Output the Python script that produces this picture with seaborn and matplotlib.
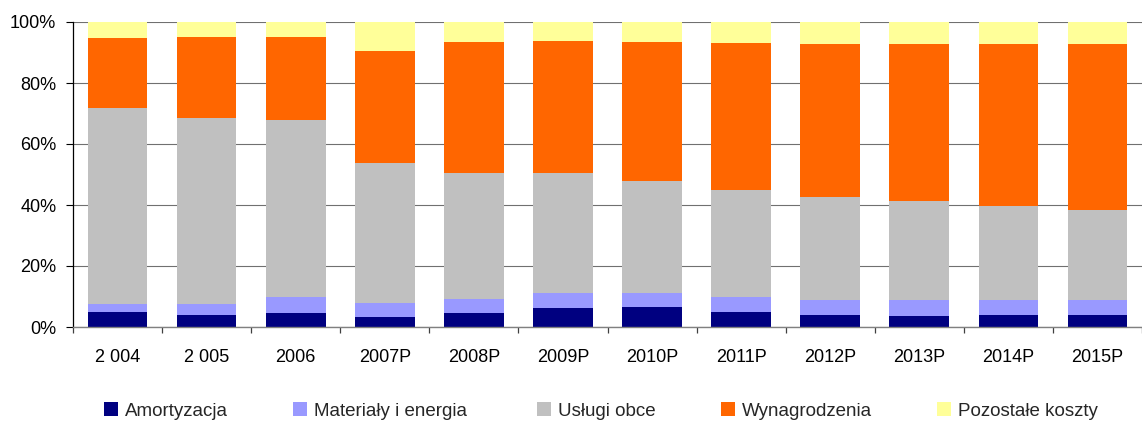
import matplotlib
matplotlib.use("Agg")
import matplotlib.pyplot as plt
from matplotlib.patches import Patch
from matplotlib.ticker import FixedLocator, FuncFormatter
import numpy as np
import pandas as pd
import seaborn as sns

# Cost structure by year (share of total costs, %)
years = ["2 004", "2 005", "2006", "2007P", "2008P", "2009P",
         "2010P", "2011P", "2012P", "2013P", "2014P", "2015P"]
amortyzacja = [4.9, 4.0, 4.6, 3.4, 4.6, 6.2, 6.6, 4.9, 3.9, 3.6, 3.9, 3.9]
materialy = [2.6, 3.5, 5.3, 4.5, 4.6, 4.9, 4.5, 4.9, 5.0, 5.3, 5.0, 5.0]
uslugi = [64.4, 61.0, 58.0, 45.9, 41.3, 39.4, 36.8, 35.1, 33.7, 32.4, 30.8, 29.5]
wynagrodzenia = [22.9, 26.6, 27.2, 36.7, 42.9, 43.3, 45.5, 48.2, 50.2, 51.5, 53.1, 54.4]
pozostale = [5.2, 4.9, 4.9, 9.5, 6.6, 6.2, 6.6, 6.9, 7.2, 7.2, 7.2, 7.2]

series_names = ["Amortyzacja", "Materiały i energia", "Usługi obce",
                "Wynagrodzenia", "Pozostałe koszty"]
series_values = [amortyzacja, materialy, uslugi, wynagrodzenia, pozostale]
colors = ["#000080", "#9999FF", "#C0C0C0", "#FF6600", "#FFFF99"]

df = pd.DataFrame(dict(zip(series_names, series_values)), index=years)
cum = df.cumsum(axis=1)

sns.set_theme(style="white")
plt.rcParams["font.family"] = ["Liberation Sans", "DejaVu Sans"]

W, H = 1142, 421
fig = plt.figure(figsize=(W / 100, H / 100), dpi=100)
ax = fig.add_axes([73 / W, 1 - 327 / H, 1 - 73 / W, (327 - 22) / H])

# stacked bars: draw cumulative totals from the top series down
for name, color in reversed(list(zip(series_names, colors))):
    sns.barplot(x=years, y=cum[name].values, color=color, width=0.67,
                linewidth=0, saturation=1, ax=ax, zorder=2)

ax.set_xlim(-0.5, len(years) - 0.5)
ax.set_ylim(0, 100)
ax.set_xlabel("")
ax.set_ylabel("")

ax.yaxis.set_major_locator(FixedLocator([0, 20, 40, 60, 80, 100]))
ax.yaxis.set_major_formatter(FuncFormatter(lambda v, p: f"{v:.0f}%"))
ax.grid(axis="y", color="#707070", linewidth=0.8, zorder=0)
ax.grid(axis="x", visible=False)
ax.set_axisbelow(True)

for s in ["top", "right"]:
    ax.spines[s].set_visible(False)
ax.spines["left"].set_color("black")
ax.spines["left"].set_linewidth(0.9)
ax.spines["bottom"].set_color("#808080")
ax.spines["bottom"].set_linewidth(1.0)

ax.tick_params(axis="y", which="major", left=True, length=5, width=0.8,
               color="black", pad=7, labelsize=13, labelcolor="black")
ax.tick_params(axis="x", which="major", bottom=False, length=0, pad=16,
               labelsize=13, labelcolor="black")
ax.xaxis.set_minor_locator(FixedLocator(np.arange(-0.5, len(years), 1.0)))
ax.tick_params(axis="x", which="minor", bottom=True, length=4.5, width=0.9,
               color="#404040")

# legend row: one entry per series, each anchored at its own x position
legend_x = [104, 293, 537, 721, 937]
for n, c, x in zip(series_names, colors, legend_x):
    leg = fig.legend(handles=[Patch(facecolor=c, edgecolor="none", label=n)],
                     loc="center left", frameon=False,
                     bbox_to_anchor=(x / W, 1 - 411 / H),
                     borderpad=0, borderaxespad=0, fontsize=13.5,
                     handlelength=0.75, handleheight=0.75, handletextpad=0.35)

fig.savefig("out.png", dpi=100)
